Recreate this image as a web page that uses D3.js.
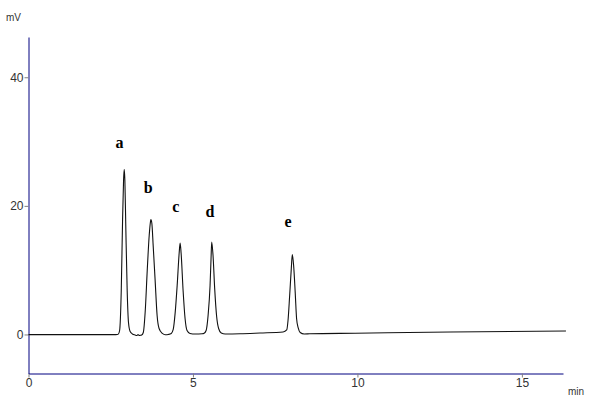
<!DOCTYPE html>
<html>
<head>
<meta charset="utf-8">
<script src="https://cdn.jsdelivr.net/npm/d3@7"></script>
<style>
  html, body { margin: 0; padding: 0; background: #fff; }
  svg { display: block; }
</style>
</head>
<body>
<svg id="chart" width="600" height="405"></svg>
<script>
// ---- data ----
const traceTime = [0, 2.60, 2.70, 2.73, 2.77, 2.82, 2.86, 2.89, 2.91, 2.93, 2.96, 3.00, 3.04, 3.09, 3.16, 3.24, 3.30, 3.33, 3.36, 3.40,
  3.44, 3.49, 3.55, 3.61, 3.67, 3.71, 3.72, 3.75, 3.79, 3.85, 3.91, 3.97, 4.07, 4.16,
  4.25, 4.34, 4.40, 4.46, 4.52, 4.58, 4.61, 4.64, 4.70, 4.76, 4.82, 4.91, 5.07, 5.28,
  5.34, 5.40, 5.46, 5.52, 5.55, 5.57, 5.61, 5.66, 5.72, 5.78, 5.86, 5.98, 6.43, 7.04, 7.74,
  7.85, 7.89, 7.94, 7.99, 8.02, 8.06, 8.11, 8.15, 8.20, 8.26, 8.38, 8.55, 9.93, 12.82, 16.34];
const traceMV = [-0.03, -0.03, 0.0, 0.05, 0.62, 6.85, 17.76, 23.99, 25.70, 23.99, 16.2, 6.85, 1.87, 0.47, 0.08, -0.08, -0.16, 0.0, -0.16, -0.12,
  -0.08, 0.31, 3.74, 9.97, 15.42, 17.6, 17.87, 17.29, 13.86, 8.41, 2.96, 0.93, 0.16, -0.05,
  0.0, 0.16, 0.78, 3.43, 7.63, 12.62, 14.22, 12.62, 6.85, 2.49, 0.62, 0.16, 0.08, 0.11,
  0.19, 0.62, 2.96, 7.63, 11.84, 14.38, 12.31, 7.17, 2.80, 0.93, 0.23, 0.08, 0.11, 0.23, 0.39,
  0.70, 2.18, 6.07, 10.28, 12.41, 10.75, 6.39, 2.49, 1.01, 0.31, 0.08, 0.11, 0.20, 0.39, 0.55];

const peakLabels = ["a", "b", "c", "d", "e"];
const labelTime = [2.765, 3.638, 4.48, 5.52, 7.89];
const labelMV = [28.97, 21.96, 19.0, 18.22, 16.71];

const xTicks = [0, 5, 10, 15];
const yTicks = [0, 20, 40];
const xDomain = [0, 16.25];
const yDomain = [-6.07, 46.26];
const xUnit = "min";
const yUnit = "mV";

// ---- drawing ----
const svg = d3.select("#chart");
const x = d3.scaleLinear().domain(xDomain).range([28.5, 563]);
const y = d3.scaleLinear().domain(yDomain).range([373.5, 37]);

const axisColor = "#000080";
const tickColor = "#808080";
const tickFont = "Liberation Sans, Arial, sans-serif";

// x axis
const gx = svg.append("g")
  .attr("transform", `translate(0,${y(yDomain[0])})`)
  .call(d3.axisBottom(x).tickValues(xTicks).tickSize(4).tickSizeOuter(0).tickFormat(d3.format("d")));
gx.select(".domain").attr("stroke", axisColor).attr("stroke-width", 1);
gx.selectAll(".tick line").attr("stroke", tickColor);
gx.selectAll(".tick text").attr("font-family", tickFont).attr("font-size", 12)
  .attr("fill", "#333").attr("dy", "0.55em");

// y axis
const gy = svg.append("g")
  .attr("transform", `translate(${x(xDomain[0])},0)`)
  .call(d3.axisLeft(y).tickValues(yTicks).tickSize(4).tickSizeOuter(0).tickPadding(1).tickFormat(d3.format("d")));
gy.select(".domain").attr("stroke", axisColor).attr("stroke-width", 1);
gy.selectAll(".tick line").attr("stroke", tickColor);
gy.selectAll(".tick text").attr("font-family", tickFont).attr("font-size", 12).attr("fill", "#333");

// units
svg.append("text").attr("x", 6).attr("y", 21)
  .attr("font-family", tickFont).attr("font-size", 10).attr("fill", "#333").text(yUnit);
svg.append("text").attr("x", 568).attr("y", 395)
  .attr("font-family", tickFont).attr("font-size", 10).attr("fill", "#333").text(xUnit);

// trace
const pts = traceTime.map((t, i) => [t, traceMV[i]]);
const line = d3.line()
  .x(d => x(d[0]))
  .y(d => y(d[1]))
  .curve(d3.curveMonotoneX);
svg.append("path")
  .datum(pts)
  .attr("fill", "none")
  .attr("stroke", "#111")
  .attr("stroke-width", 1.1)
  .attr("stroke-linejoin", "round")
  .attr("d", line);

// peak labels
svg.selectAll("text.peak")
  .data(peakLabels)
  .join("text")
  .attr("class", "peak")
  .attr("x", (d, i) => x(labelTime[i]))
  .attr("y", (d, i) => y(labelMV[i]))
  .attr("text-anchor", "middle")
  .attr("font-family", "Liberation Serif, Times New Roman, serif")
  .attr("font-weight", "bold")
  .attr("font-size", 16)
  .attr("fill", "#000")
  .text(d => d);
</script>
</body>
</html>
